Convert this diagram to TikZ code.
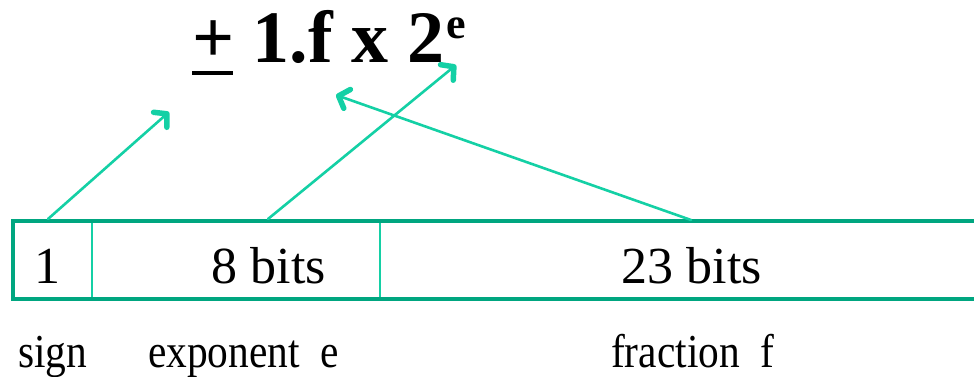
\documentclass[tikz,border=0pt]{standalone}
\usepackage{fontspec}
\setmainfont{Liberation Serif}
\usetikzlibrary{arrows.meta}
\definecolor{boxgreen}{RGB}{0,166,128}
\definecolor{arrowteal}{RGB}{20,208,165}
\tikzset{
  celltext/.style={inner sep=0pt, anchor=base, font=\fontsize{52}{56}\selectfont},
  labeltext/.style={inner sep=0pt, anchor=base west, xscale=0.92, yscale=1.05, font=\fontsize{45}{50}\selectfont},
  pointer/.style={draw=arrowteal, line width=2.6pt, line cap=round,
    -{Straight Barb[length=9pt,width=20pt,line width'=5.5pt,round]}},
  outerbox/.style={draw=boxgreen, line width=4.5pt},
  divider/.style={draw=arrowteal, line width=2.2pt}
}
\begin{document}
\begin{tikzpicture}[x=1pt,y=-1pt]
\useasboundingbox (0,0) rectangle (974,377);
\clip (0,0) rectangle (974,377);
% formula
\node[inner sep=0pt, anchor=base west] (formula) at (192,63)
  {\bfseries\fontsize{74}{80}\selectfont\rlap{\rule[-12pt]{41pt}{4pt}}+ 1.f x 2\hspace{2pt}\raisebox{24pt}{\fontsize{44}{48}\selectfont e}};
% box
\draw[outerbox] (990,221) -- (13,221) -- (13,299) -- (990,299);
\draw[divider] (92,223) -- (92,297);
\draw[divider] (380,223) -- (380,297);
% cell texts
\node[celltext] (sbit) at (47,283) {1};
\node[celltext] (ebits) at (269,283) {8 bits};
\node[celltext] (fbits) at (692,283) {23 bits};
% labels
\node[labeltext] (lsign) at (18,367) {sign};
\node[labeltext] (lexp) at (148,367) {exponent~~e};
\node[labeltext] (lfrac) at (611,367) {fraction~~f};
% arrow endpoints
\coordinate (s0) at (48,219);
\coordinate (s1) at (169,112);
\coordinate (e0) at (268,219);
\coordinate (e1) at (456,65);
\coordinate (f0) at (691,220);
\coordinate (f1) at (336,95);
\draw[pointer] (s0) -- (s1);
\draw[pointer] (e0) -- (e1);
\draw[pointer] (f0) -- (f1);
\end{tikzpicture}
\end{document}
